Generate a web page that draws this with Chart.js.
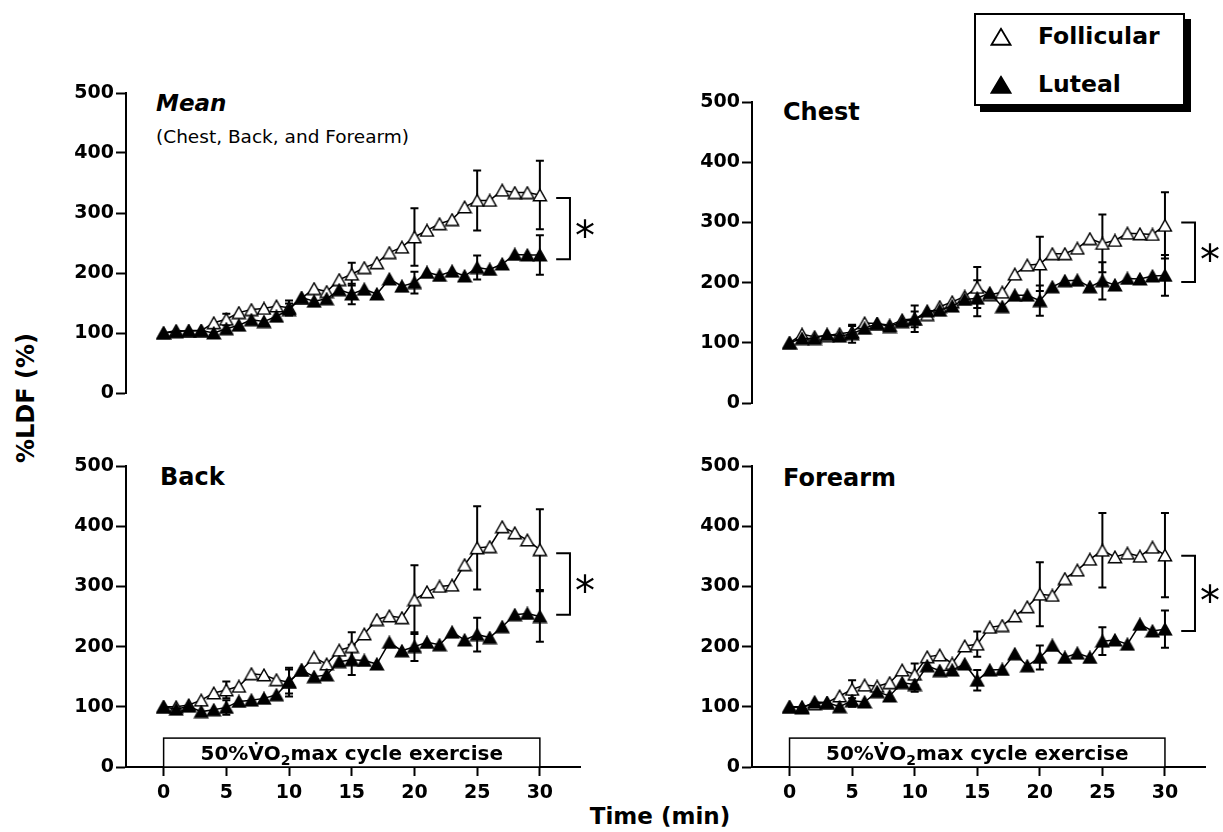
<!DOCTYPE html>
<html>
  <head>
    <meta charset="utf-8">
    <title>%LDF during 50%VO2max cycle exercise</title>
    <script src="https://cdn.jsdelivr.net/npm/chart.js"></script>
    <style>
      body {
        background: #fff;
        margin: 0;
      }
      #page {
        color: #000;
        font-family: 'DejaVu Sans', sans-serif;
        height: 832px;
        overflow: hidden;
        position: relative;
        width: 1223px;
      }
      canvas {
        position: absolute;
      }
      .txt {
        font-weight: bold;
        line-height: 1;
        position: absolute;
        transform: translateY(-50%);
        white-space: nowrap;
      }
      .title {
        font-size: 24px;
      }
      #legend {
        background: #fff;
        border: 2px solid #000;
        box-shadow: 6px 6px 0 #000;
        box-sizing: border-box;
        height: 93px;
        left: 974px;
        position: absolute;
        top: 13px;
        width: 211px;
      }
      #legend .row {
        align-items: center;
        display: flex;
        font-size: 23.5px;
        font-weight: bold;
        left: 14px;
        line-height: 1;
        position: absolute;
        transform: translateY(-50%);
      }
      #legend svg {
        margin-right: 26px;
      }
    </style>
  </head>
  <body>
    <div id="page">
      <div class="txt title" style="left:156px; top:103px; font-size:23px; font-style:italic">Mean</div>
      <div class="txt" style="left:156px; top:137px; font-size:18.5px; font-weight:normal">(Chest, Back, and Forearm)</div>
      <div class="txt title" style="left:783px; top:112px">Chest</div>
      <div class="txt title" style="left:160px; top:477px">Back</div>
      <div class="txt title" style="left:783px; top:478px">Forearm</div>
      <div class="txt" style="left:26px; top:398px; font-size:24px; transform:translate(-50%,-50%) rotate(-90deg)">%LDF (%)</div>
      <div class="txt" style="left:660px; top:816px; font-size:23px; transform:translate(-50%,-50%)">Time (min)</div>
      <div id="legend">
        <div class="row" style="top:22px">
          <svg width="22" height="19"><polygon points="1.5,17.5 11,1.5 20.5,17.5" fill="#fff" stroke="#000" stroke-width="1.8"/></svg>
          <span>Follicular</span>
        </div>
        <div class="row" style="top:70px">
          <svg width="22" height="19"><polygon points="1.5,17.5 11,1.5 20.5,17.5" fill="#000" stroke="#000" stroke-width="1.8"/></svg>
          <span>Luteal</span>
        </div>
      </div>
    </div>

    <script>
      // Time axis (min from start of exercise)
      const minutes = [0,1,2,3,4,5,6,7,8,9,10,11,12,13,14,15,16,17,18,19,20,21,22,23,24,25,26,27,28,29,30]
      const errMinutes = [5, 10, 15, 20, 25, 30]
      const xTicks = [0, 5, 10, 15, 20, 25, 30]
      const yTicks = [0, 100, 200, 300, 400, 500]
      const exerciseMinutes = [0, 30]

      // Mean (chest, back and forearm)
      const meanFollicular = [100,104,103,104,117,123,134,139,141,145,142,158,174,169,189,198,209,217,234,243,260,271,282,289,310,321,321,338,334,334,330]
      const meanLuteal = [100,102,104,104,100,107,113,122,119,128,139,159,153,157,172,165,173,165,190,178,184,201,196,203,195,209,206,215,231,230,230]
      const meanFollicularSE = [9, 12, 19, 48, 50, 57]
      const meanLutealSE = [6, 10, 17, 18, 20, 33]
      const meanBracket = [325, 223]

      // Chest
      const chestFollicular = [100,114,110,112,115,118,133,132,129,138,140,147,160,168,177,192,180,184,214,229,231,248,248,257,273,265,270,282,281,280,295]
      const chestLuteal = [100,107,107,114,111,115,124,132,127,135,139,153,154,161,172,174,183,160,179,179,170,193,203,204,193,203,196,207,206,211,212]
      const chestFollicularSE = [10, 22, 34, 45, 48, 55]
      const chestLutealSE = [15, 13, 30, 25, 31, 34]
      const chestBracket = [300, 201]

      // Back
      const backFollicular = [100,100,103,111,123,128,134,155,153,145,141,161,182,171,194,200,221,245,251,248,278,291,300,302,336,364,366,399,389,377,361]
      const backLuteal = [100,96,101,92,95,99,109,111,114,120,142,161,150,153,175,178,177,171,207,193,200,207,203,224,211,220,215,233,253,255,250]
      const backFollicularSE = [14, 24, 24, 57, 69, 67]
      const backLutealSE = [12, 20, 25, 24, 28, 42]
      const backBracket = [355, 253]

      // Forearm
      const forearmFollicular = [100,100,105,107,118,129,136,134,140,161,154,183,186,172,201,204,232,235,251,266,287,285,313,327,345,360,349,355,350,365,352]
      const forearmLuteal = [100,98,108,107,100,110,108,125,118,140,137,168,160,161,171,144,161,162,188,168,182,202,182,189,182,209,211,204,237,226,229]
      const forearmFollicularSE = [15, 18, 21, 53, 62, 70]
      const forearmLutealSE = [10, 12, 17, 20, 23, 31]
      const forearmBracket = [351, 226]

      const FONT = "'DejaVu Sans', sans-serif"
      Chart.defaults.font.family = FONT
      Chart.defaults.color = '#000'

      // plot areas on the page (px)
      const panels = [
        { area: { left: 126, top: 93, right: 580, bottom: 393 }, showX: false,
          fol: meanFollicular, lut: meanLuteal, folSE: meanFollicularSE, lutSE: meanLutealSE, bracket: meanBracket },
        { area: { left: 752, top: 102, right: 1205, bottom: 403 }, showX: false,
          fol: chestFollicular, lut: chestLuteal, folSE: chestFollicularSE, lutSE: chestLutealSE, bracket: chestBracket },
        { area: { left: 126, top: 466, right: 580, bottom: 767 }, showX: true,
          fol: backFollicular, lut: backLuteal, folSE: backFollicularSE, lutSE: backLutealSE, bracket: backBracket },
        { area: { left: 752, top: 466, right: 1205, bottom: 767 }, showX: true,
          fol: forearmFollicular, lut: forearmLuteal, folSE: forearmFollicularSE, lutSE: forearmLutealSE, bracket: forearmBracket }
      ]

      // the x scale keeps its height even when hidden
      const Y_AXIS_W = 80, PAD_TOP = 30, PAD_RIGHT = 50, X_AXIS_H = 55

      // triangle markers, centred on the point
      function triangle(fill) {
        const c = document.createElement('canvas')
        c.width = 16
        c.height = 14
        const g = c.getContext('2d')
        g.beginPath()
        g.moveTo(1.5, 12.75)
        g.lineTo(8, 1.25)
        g.lineTo(14.5, 12.75)
        g.closePath()
        g.fillStyle = fill
        g.fill()
        g.lineWidth = 1.5
        g.strokeStyle = '#000'
        g.stroke()
        return c
      }
      const openTri = triangle('#fff')
      const filledTri = triangle('#000')

      const toPoints = vals => minutes.map((m, i) => ({ x: m, y: vals[i] }))

      const extras = {
        id: 'extras',
        beforeDatasetsDraw(chart, args, opts) {
          const { ctx, scales: { x, y } } = chart
          const p = opts.panel
          ctx.save()
          ctx.strokeStyle = '#000'
          ctx.fillStyle = '#000'

          if (p.showX) {
            // exercise period box
            const l = x.getPixelForValue(exerciseMinutes[0])
            const r = x.getPixelForValue(exerciseMinutes[1])
            const t = y.getPixelForValue(48)
            const b = y.getPixelForValue(0)
            ctx.fillStyle = '#fff'
            ctx.fillRect(l, t, r - l, b - t)
            ctx.lineWidth = 1.5
            ctx.strokeRect(l, t, r - l, b - t)

            ctx.fillStyle = '#000'
            const parts = [
              { s: '50%V\u0307O', f: 'bold 20px ' + FONT, dy: 0 },
              { s: '2', f: 'bold 14px ' + FONT, dy: 5 },
              { s: 'max cycle exercise', f: 'bold 20px ' + FONT, dy: 0 }
            ]
            let total = 0
            parts.forEach(pt => { ctx.font = pt.f; pt.w = ctx.measureText(pt.s).width; total += pt.w })
            let cx = (l + r) / 2 - total / 2
            const base = (t + b) / 2 + 7
            ctx.textBaseline = 'alphabetic'
            ctx.textAlign = 'left'
            parts.forEach(pt => {
              ctx.font = pt.f
              ctx.fillText(pt.s, cx, base + pt.dy)
              cx += pt.w
            })
          }

          // SE bars
          ctx.lineWidth = 2
          ;[[p.fol, p.folSE], [p.lut, p.lutSE]].forEach(([vals, se]) => {
            errMinutes.forEach((m, k) => {
              const v = vals[minutes.indexOf(m)]
              const px = x.getPixelForValue(m)
              const top = y.getPixelForValue(v + se[k])
              const bot = y.getPixelForValue(v - se[k])
              ctx.beginPath()
              ctx.moveTo(px, top)
              ctx.lineTo(px, bot)
              ctx.moveTo(px - 4, top)
              ctx.lineTo(px + 4, top)
              ctx.moveTo(px - 4, bot)
              ctx.lineTo(px + 4, bot)
              ctx.stroke()
            })
          })
          ctx.restore()
        },
        afterDatasetsDraw(chart, args, opts) {
          const { ctx, scales: { x, y } } = chart
          const p = opts.panel
          const x0 = x.getPixelForValue(31.3)
          const x1 = x.getPixelForValue(32.4)
          const t = y.getPixelForValue(p.bracket[0])
          const b = y.getPixelForValue(p.bracket[1])
          ctx.save()
          ctx.strokeStyle = '#000'
          ctx.lineWidth = 2
          ctx.beginPath()
          ctx.moveTo(x0, t)
          ctx.lineTo(x1, t)
          ctx.lineTo(x1, b)
          ctx.lineTo(x0, b)
          ctx.stroke()

          // significance mark, centred on the bracket
          ctx.fillStyle = '#000'
          ctx.font = '40px ' + FONT
          ctx.textAlign = 'center'
          ctx.textBaseline = 'alphabetic'
          const m = ctx.measureText('*')
          const shift = (m.actualBoundingBoxAscent - m.actualBoundingBoxDescent) / 2
          ctx.fillText('*', x1 + 15, (t + b) / 2 + shift)
          ctx.restore()
        }
      }

      const tickFont = { family: FONT, size: 19, weight: 'bold' }

      panels.forEach(p => {
        const a = p.area
        const canvas = document.createElement('canvas')
        const w = a.right - a.left + Y_AXIS_W + PAD_RIGHT
        const h = a.bottom - a.top + PAD_TOP + X_AXIS_H
        canvas.width = w
        canvas.height = h
        canvas.style.left = (a.left - Y_AXIS_W) + 'px'
        canvas.style.top = (a.top - PAD_TOP) + 'px'
        document.getElementById('page').appendChild(canvas)

        new Chart(canvas, {
          type: 'line',
          data: {
            datasets: [
              {
                label: 'Luteal',
                data: toPoints(p.lut),
                borderColor: '#000',
                borderWidth: 1.5,
                pointStyle: filledTri,
                pointRadius: 7,
                clip: false,
                order: 0
              },
              {
                label: 'Follicular',
                data: toPoints(p.fol),
                borderColor: '#000',
                borderWidth: 1.5,
                pointStyle: openTri,
                pointRadius: 7,
                clip: false,
                order: 1
              }
            ]
          },
          options: {
            responsive: false,
            animation: false,
            events: [],
            layout: {
              padding: { left: 0, top: PAD_TOP, right: PAD_RIGHT, bottom: 0 }
            },
            plugins: {
              legend: { display: false },
              tooltip: { enabled: false },
              extras: { panel: p }
            },
            scales: {
              x: {
                type: 'linear',
                display: p.showX,
                min: -3,
                max: 33.2,
                afterBuildTicks: s => { s.ticks = xTicks.map(v => ({ value: v })) },
                afterFit: s => { s.height = X_AXIS_H },
                border: { display: true, color: '#000', width: 2 },
                grid: { drawOnChartArea: false, drawTicks: true, tickLength: 9, tickWidth: 2, tickColor: '#000' },
                ticks: { color: '#000', padding: 6, font: tickFont, maxRotation: 0, autoSkip: false }
              },
              y: {
                min: 0,
                max: 500,
                afterBuildTicks: s => { s.ticks = yTicks.map(v => ({ value: v })) },
                afterFit: s => { s.width = Y_AXIS_W },
                border: { display: true, color: '#000', width: 2 },
                grid: { drawOnChartArea: false, drawTicks: true, tickLength: 10, tickWidth: 2, tickColor: '#000' },
                ticks: { color: '#000', padding: 2, font: tickFont }
              }
            }
          },
          plugins: [extras]
        })
      })
    </script>
  </body>
</html>
